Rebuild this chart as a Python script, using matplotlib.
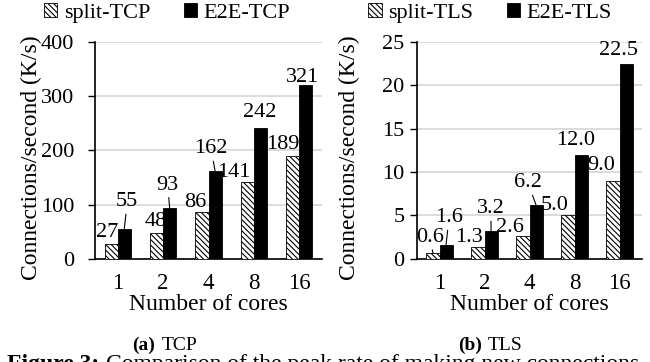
import matplotlib
matplotlib.use("Agg")
import numpy as np
import matplotlib.pyplot as plt

# data
cores = ["1", "2", "4", "8", "16"]
split_tcp = [27, 48, 86, 141, 189]
e2e_tcp = [55, 93, 162, 242, 321]
split_tls = [0.6, 1.3, 2.6, 5.0, 9.0]
e2e_tls = [1.6, 3.2, 6.2, 12.0, 22.5]

plt.rcParams['font.family'] = ['Liberation Serif', 'DejaVu Serif']
plt.rcParams['hatch.linewidth'] = 0.8

PX = 0.72  # pixels -> points at dpi 100

# label offsets (pixels, dx, dy) from bar top, and whether a leader line is drawn
tcp_split_off = [(-4, 12, False), (-1, 11, False), (-7, 10, False), (-14, 10, False), (-10, 12, False)]
tcp_e2e_off = [(3, 27, True), (-2, 23, True), (-4, 22, True), (-1, 15, False), (-3, 7, False)]
tls_split_off = [(-3, 16, True), (-9, 10, False), (-13, 9, False), (-13, 10, False), (-12, 15, False)]
tls_e2e_off = [(3, 27, True), (0, 22, True), (-8, 22, True), (-5, 14, False), (-8, 13, False)]

fig = plt.figure(figsize=(6.5, 3.62), dpi=100)
ax1 = fig.add_axes([95 / 650, 1 - 258.7 / 362, 227 / 650, 216.7 / 362])
ax2 = fig.add_axes([417 / 650, 1 - 258.7 / 362, 225 / 650, 216.7 / 362])

w = 0.29


def panel(ax, split, e2e, names, ymax, ystep, fmt, soff, eoff, xl, ypad, legx):
    x = np.arange(len(cores))
    b1 = ax.bar(x - w / 2, split, w, color='white', edgecolor='black',
                hatch='\\\\\\\\\\\\', linewidth=0.6, label=names[0], zorder=3)
    b2 = ax.bar(x + w / 2, e2e, w, color='black', edgecolor='black',
                linewidth=0.6, label=names[1], zorder=3)
    for bars, vals, offs in ((b1, split, soff), (b2, e2e, eoff)):
        for r, v, (dx, dy, line) in zip(bars, vals, offs):
            xy = (r.get_x() + r.get_width() / 2, v)
            ap = dict(arrowstyle='-', lw=0.8, color='black', shrinkA=0, shrinkB=0) if line else None
            ax.annotate(fmt.format(v), xy=xy, xytext=(dx * PX, dy * PX),
                        textcoords='offset points', ha='center', va='center',
                        fontsize=16, arrowprops=ap, zorder=4)
    ax.set_xlim(-0.5, len(cores) - 0.5)
    ax.set_ylim(0, ymax)
    ax.set_yticks(np.arange(0, ymax + 1e-9, ystep))
    ax.set_xticks(x)
    ax.set_xticklabels(cores)
    ax.tick_params(axis='x', length=0, labelsize=16.5, pad=10)
    ax.tick_params(axis='y', length=5, width=1, labelsize=16, pad=ypad)
    ax.grid(axis='y', color='#d9d9d9', lw=1.3, zorder=0)
    for s in ('top', 'right'):
        ax.spines[s].set_visible(False)
    ax.spines['left'].set_linewidth(1.2)
    ax.spines['bottom'].set_linewidth(1.2)
    ax.set_xlabel("Number of cores", fontsize=17, labelpad=0)
    ax.set_ylabel("Connections/second (K/s)", fontsize=17)
    ax.yaxis.set_label_coords(xl, 0.465)
    fig.legend(handles=[b1, b2], loc='center', ncol=2, frameon=False, fontsize=16,
               bbox_to_anchor=(legx / 650, 1 - 13 / 362),
               handlelength=0.6, handleheight=0.6, handletextpad=0.3, columnspacing=1.5)


panel(ax1, split_tcp, e2e_tcp, ["split-TCP", "E2E-TCP"], 400, 100, "{:d}",
      tcp_split_off, tcp_e2e_off, -0.235, 10, 167)
panel(ax2, split_tls, e2e_tls, ["split-TLS", "E2E-TLS"], 25, 5, "{:.1f}",
      tls_split_off, tls_e2e_off, -0.253, 4, 490)

# sub-captions
fig.text(155 / 650, 1 - 345 / 362, "(a)", ha='right', va='center', fontsize=14, fontweight='bold')
fig.text(162 / 650, 1 - 345 / 362, "TCP", ha='left', va='center', fontsize=14)
fig.text(482 / 650, 1 - 345 / 362, "(b)", ha='right', va='center', fontsize=14, fontweight='bold')
fig.text(488 / 650, 1 - 345 / 362, "TLS", ha='left', va='center', fontsize=14)

# figure caption, clipped by the bottom edge
t = fig.text(7 / 650, 1 - 354 / 362, "Figure 3:", ha='left', va='top', fontsize=17, fontweight='bold')
fig.canvas.draw()
bb = t.get_window_extent()
fig.text(bb.x1 / 650 + 7 / 650, 1 - 354 / 362, "Comparison of the peak rate of making new connections",
         ha='left', va='top', fontsize=17)

fig.savefig("out.png", dpi=100)
